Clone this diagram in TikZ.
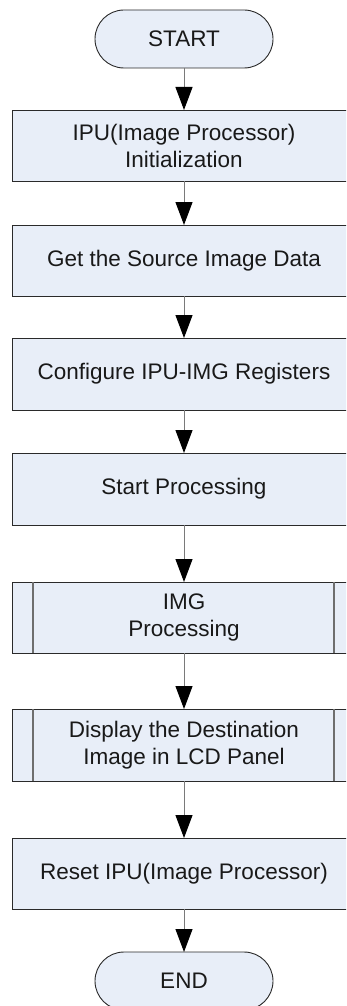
\documentclass[tikz,border=0pt]{standalone}
\usepackage{fontspec}
\setmainfont{Liberation Sans}
\usetikzlibrary{arrows.meta,calc}
\definecolor{boxfill}{HTML}{E8EEF8}
\definecolor{boxline}{HTML}{2A2A2A}
\definecolor{linkline}{HTML}{7A7A7A}
\definecolor{subline}{HTML}{6E6E6E}
\tikzset{
  flowtext/.style={font=\fontsize{22.5}{27}\selectfont, text=black!90, align=center},
  procbox/.style={flowtext, draw=boxline, fill=boxfill, line width=0.9pt,
    rectangle, minimum width=344pt, inner sep=0pt, outer sep=0pt},
  terminal/.style={flowtext, draw=boxline, fill=boxfill, line width=0.9pt,
    rectangle, rounded corners=29pt, minimum width=178pt, minimum height=58pt,
    inner sep=0pt, outer sep=0pt},
  link/.style={draw=linkline, line width=1pt,
    -{Triangle[width=17pt,length=23pt,color=black]}},
  subbar/.style={draw=subline, line width=1.6pt}
}
\begin{document}
\begin{tikzpicture}[x=1pt,y=-1pt]
  \useasboundingbox (0,0) rectangle (346,1006);
  \clip (0,0) rectangle (346,1006);

  % terminals
  \node[terminal] (start) at (184,39) {START};
  \node[terminal] (finish) at (184,981) {END};

  % process steps
  \node[procbox, minimum height=71pt] (init) at (184,145.5)
    {IPU(Image Processor)\\Initialization};
  \node[procbox, minimum height=71pt] (source) at (184,260.5)
    {Get the Source Image Data};
  \node[procbox, minimum height=72pt] (config) at (184,374)
    {Configure IPU-IMG Registers};
  \node[procbox, minimum height=72pt] (run) at (184,489)
    {Start Processing};
  \node[procbox, minimum height=71pt] (img) at (184,617.5)
    {IMG\\Processing};
  \node[procbox, minimum height=72pt] (display) at (184,745)
    {Display the Destination\\Image in LCD Panel};
  \node[procbox, minimum height=71pt] (reset) at (184,873.5)
    {Reset IPU(Image Processor)};

  % predefined-process side bars
  \foreach \n in {img,display}{
    \draw[subbar] ($(\n.north west)+(21,0)$) -- ($(\n.south west)+(21,0)$);
    \draw[subbar] ($(\n.north east)+(-22,0)$) -- ($(\n.south east)+(-22,0)$);
  }

  % connectors
  \draw[link] (start.south) -- (init.north);
  \draw[link] (init.south) -- (source.north);
  \draw[link] (source.south) -- (config.north);
  \draw[link] (config.south) -- (run.north);
  \draw[link] (run.south) -- (img.north);
  \draw[link] (img.south) -- (display.north);
  \draw[link] (display.south) -- (reset.north);
  \draw[link] (reset.south) -- (finish.north);
\end{tikzpicture}
\end{document}
